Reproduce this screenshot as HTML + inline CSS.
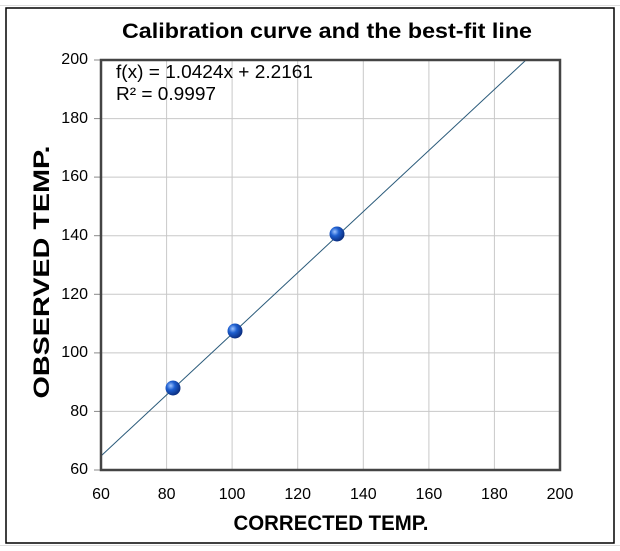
<!DOCTYPE html>
<html><head><style>body{margin:0;background:#fff}</style></head><body>
<svg width="620" height="546" xmlns="http://www.w3.org/2000/svg" font-family="Liberation Sans, sans-serif">
<rect width="620" height="546" fill="#fff"/>
<g stroke="#ddd" stroke-width="1">
<line x1="0" y1="5.5" x2="620" y2="5.5"/><line x1="0" y1="545.5" x2="620" y2="545.5"/>
</g>
<rect x="6" y="8" width="608" height="535" fill="#fff" stroke="#000" stroke-width="1.5"/>
<text x="327" y="38" font-size="21" font-weight="bold" text-anchor="middle" textLength="410" lengthAdjust="spacingAndGlyphs">Calibration curve and the best-fit line</text>
<g stroke="#c8c8c8" stroke-width="1">
<line x1="166.6" y1="60" x2="166.6" y2="470"/><line x1="232.1" y1="60" x2="232.1" y2="470"/><line x1="297.7" y1="60" x2="297.7" y2="470"/><line x1="363.3" y1="60" x2="363.3" y2="470"/><line x1="428.9" y1="60" x2="428.9" y2="470"/><line x1="494.4" y1="60" x2="494.4" y2="470"/>
<line x1="101" y1="118.6" x2="560" y2="118.6"/><line x1="101" y1="177.1" x2="560" y2="177.1"/><line x1="101" y1="235.7" x2="560" y2="235.7"/><line x1="101" y1="294.3" x2="560" y2="294.3"/><line x1="101" y1="352.9" x2="560" y2="352.9"/><line x1="101" y1="411.4" x2="560" y2="411.4"/>
</g>
<g stroke="#888" stroke-width="1">
<line x1="94" y1="60" x2="101" y2="60"/><line x1="94" y1="118.6" x2="101" y2="118.6"/><line x1="94" y1="177.1" x2="101" y2="177.1"/><line x1="94" y1="235.7" x2="101" y2="235.7"/><line x1="94" y1="294.3" x2="101" y2="294.3"/><line x1="94" y1="352.9" x2="101" y2="352.9"/><line x1="94" y1="411.4" x2="101" y2="411.4"/><line x1="94" y1="470" x2="101" y2="470"/>
</g>
<line x1="101" y1="456" x2="526" y2="60" stroke="#2a5a7a" stroke-width="1"/>
<rect x="101" y="60" width="459" height="410" fill="none" stroke="#444" stroke-width="2.5"/>
<defs><radialGradient id="g" cx="0.35" cy="0.35" r="0.7"><stop offset="0" stop-color="#9fc4ff"/><stop offset="0.4" stop-color="#1e5fd0"/><stop offset="1" stop-color="#0a2a7a"/></radialGradient></defs>
<circle cx="173" cy="388" r="7.5" fill="url(#g)"/>
<circle cx="235" cy="331" r="7.5" fill="url(#g)"/>
<circle cx="337" cy="234" r="7.5" fill="url(#g)"/>
<g font-size="16" text-anchor="end">
<text x="88" y="64">200</text><text x="88" y="123">180</text><text x="88" y="181">160</text><text x="88" y="240">140</text><text x="88" y="299">120</text><text x="88" y="357">100</text><text x="88" y="416">80</text><text x="88" y="474">60</text>
</g>
<g font-size="16" text-anchor="middle">
<text x="101" y="499">60</text><text x="166.6" y="499">80</text><text x="232.1" y="499">100</text><text x="297.7" y="499">120</text><text x="363.3" y="499">140</text><text x="428.9" y="499">160</text><text x="494.4" y="499">180</text><text x="560" y="499">200</text>
</g>
<text x="116" y="78" font-size="18" textLength="197" lengthAdjust="spacingAndGlyphs">f(x) = 1.0424x + 2.2161</text>
<text x="116" y="100" font-size="18" textLength="100" lengthAdjust="spacingAndGlyphs">R² = 0.9997</text>
<text x="331" y="530" font-size="21" font-weight="bold" text-anchor="middle" textLength="195" lengthAdjust="spacingAndGlyphs">CORRECTED TEMP.</text>
<text transform="translate(49,272) rotate(-90)" font-size="22" font-weight="bold" text-anchor="middle" textLength="253" lengthAdjust="spacingAndGlyphs">OBSERVED TEMP.</text>
</svg>
</body></html>
